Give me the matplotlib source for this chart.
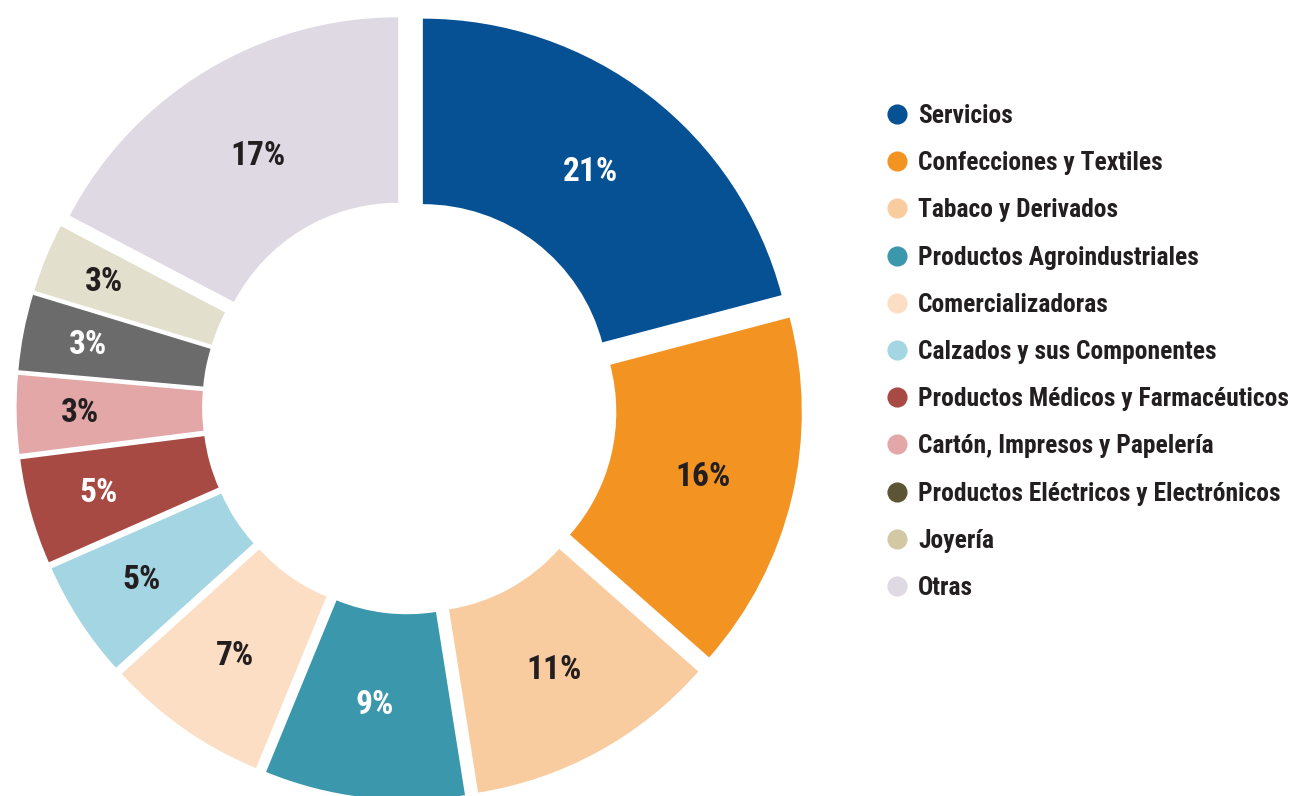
import matplotlib
matplotlib.use("Agg")
import numpy as np
import matplotlib.pyplot as plt
from matplotlib import font_manager
from matplotlib.lines import Line2D

categories = ["Servicios", "Confecciones y Textiles", "Tabaco y Derivados",
              "Productos Agroindustriales", "Comercializadoras",
              "Calzados y sus Componentes", "Productos Médicos y Farmacéuticos",
              "Cartón, Impresos y Papelería", "Productos Eléctricos y Electrónicos",
              "Joyería", "Otras"]
values = [20.9, 15.6, 11.0, 8.7, 7.1, 5.1, 4.6, 3.4, 3.3, 3.0, 17.3]

slice_colors = ["#065094", "#f39322", "#f9cca0", "#3b97ac", "#fcdec4", "#a3d5e3",
                "#a64a43", "#e2a7a6", "#6b6b6b", "#e2dfcd", "#dfd9e3"]
legend_colors = ["#065094", "#f39322", "#f9cca0", "#3b97ac", "#fcdec4", "#a3d5e3",
                 "#a64a43", "#e2a7a6", "#5c5535", "#d2c8a4", "#dfd9e3"]
label_colors = ["white", "#231f20", "#231f20", "white", "#231f20", "#231f20",
                "white", "#231f20", "white", "#231f20", "#231f20"]
label_radius = [0.74, 0.755, 0.75, 0.75, 0.76, 0.80, 0.81, 0.83, 0.825, 0.83, 0.73]

available = {f.name for f in font_manager.fontManager.ttflist}
candidates = ["Liberation Sans Narrow", "Arial Narrow", "Roboto Condensed",
              "DejaVu Sans Condensed", "Open Sans Condensed"]
narrow = [c for c in candidates if c in available]
if narrow:
    FONT = [narrow[0], "DejaVu Sans"]
    scale = 1.0
else:
    FONT = ["Liberation Sans", "DejaVu Sans"]
    scale = 0.84
plt.rcParams["font.family"] = FONT

W, H = 1293, 796
fig = plt.figure(figsize=(W / 100, H / 100), dpi=100)
ax = fig.add_axes([0, 0, 1, 1])

R = 371.0
cx, cy = 409.5, 389.0  # pixels from left / bottom
EXPL = 0.059

wedges, texts, autotexts = ax.pie(
    values, colors=slice_colors, startangle=90, counterclock=False,
    radius=1.0, explode=[EXPL] * len(values),
    wedgeprops=dict(width=0.5, linewidth=0),
    autopct="%.0f%%", pctdistance=0.75,
    textprops=dict(fontsize=24 * scale, fontweight="bold"))
for w, t, c, r in zip(wedges, autotexts, label_colors, label_radius):
    ang = np.deg2rad((w.theta1 + w.theta2) / 2)
    t.set_position(((r + EXPL) * np.cos(ang), (r + EXPL) * np.sin(ang)))
    t.set_color(c)

ax.set_xlim(-cx / R, (W - cx) / R)
ax.set_ylim(-cy / R, (H - cy) / R)
ax.set_aspect("equal")
ax.axis("off")

handles = [Line2D([], [], marker="o", linestyle="none", markersize=13.5,
                  markerfacecolor=c, markeredgecolor=c) for c in legend_colors]
leg = fig.legend(handles, categories, loc="upper left",
                 bbox_to_anchor=(884 / W, 1 - 104 / H), frameon=False,
                 prop=dict(size=18.4 * scale, weight="bold"), labelcolor="#231f20",
                 labelspacing=0.908, handletextpad=0.33, handlelength=1.0,
                 borderaxespad=0, borderpad=0)

fig.savefig("out.png", dpi=100)
